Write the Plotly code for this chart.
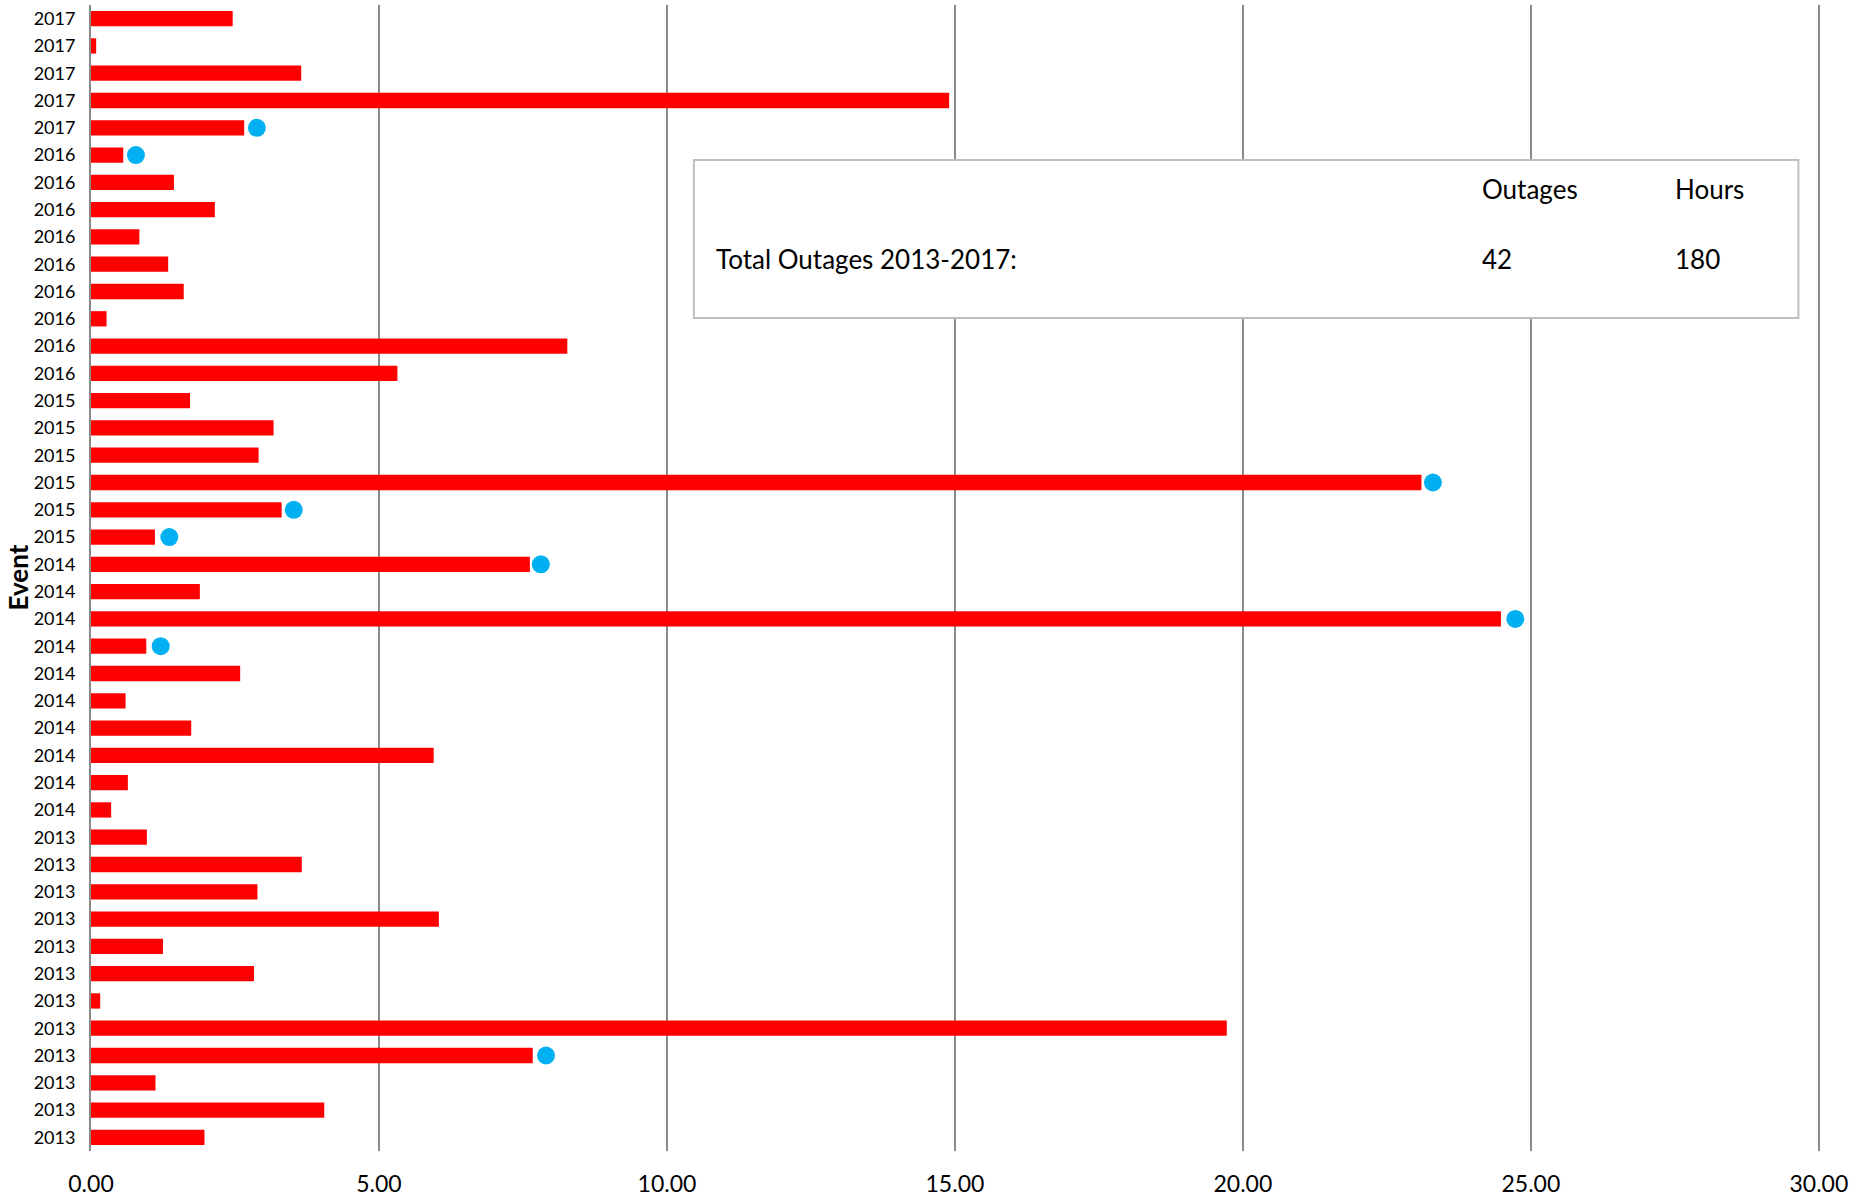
import plotly.graph_objects as go

# Outage events, listed top to bottom as drawn
years = [
    "2017", "2017", "2017", "2017", "2017",
    "2016", "2016", "2016", "2016", "2016", "2016", "2016", "2016", "2016",
    "2015", "2015", "2015", "2015", "2015", "2015",
    "2014", "2014", "2014", "2014", "2014", "2014", "2014", "2014", "2014", "2014",
    "2013", "2013", "2013", "2013", "2013", "2013", "2013", "2013", "2013", "2013", "2013", "2013",
]
hours = [
    2.46, 0.09, 3.65, 14.90, 2.66,
    0.56, 1.44, 2.15, 0.84, 1.34, 1.61, 0.27, 8.27, 5.32,
    1.72, 3.17, 2.91, 23.10, 3.31, 1.11,
    7.62, 1.89, 24.48, 0.96, 2.59, 0.60, 1.74, 5.95, 0.64, 0.35,
    0.97, 3.66, 2.89, 6.04, 1.25, 2.83, 0.16, 19.72, 7.67, 1.12, 4.05, 1.97,
]
# Flagged events (row index, marker value)
flag_rows = [4, 5, 17, 18, 19, 20, 22, 23, 38]
flag_values = [2.88, 0.78, 23.30, 3.52, 1.36, 7.81, 24.73, 1.21, 7.90]

x_ticks = [0, 5, 10, 15, 20, 25, 30]

rows = list(range(len(hours)))
total_outages = len(hours)
total_hours = round(sum(hours))

FONT = "Lato, Carlito, 'Open Sans', sans-serif"
GRID = "#8a8a8a"

fig = go.Figure()
fig.add_trace(go.Bar(
    x=hours, y=rows, orientation="h",
    marker=dict(color="#FF0000", line=dict(width=0)),
    width=0.56, showlegend=False, hoverinfo="x",
))
fig.add_trace(go.Scatter(
    x=flag_values, y=flag_rows, mode="markers",
    marker=dict(color="#00B0F0", size=18, line=dict(width=0)),
    showlegend=False, hoverinfo="x",
))

# Summary box
fig.add_shape(
    type="rect", xref="paper", yref="paper",
    x0=0.3487, x1=0.9875, y0=0.7269, y1=0.8647,
    line=dict(color="#bfbfbf", width=2), fillcolor="white", layer="above",
)
box_font = dict(family=FONT, size=26, color="#000000")
for txt, x, y in [
    ("Outages", 0.8035, 0.8394),
    ("Hours", 0.9150, 0.8394),
    ("Total Outages 2013-2017:", 0.3602, 0.7784),
    (str(total_outages), 0.8035, 0.7784),
    (str(total_hours), 0.9150, 0.7784),
]:
    fig.add_annotation(
        text=txt, x=x, y=y, xref="paper", yref="paper",
        xanchor="left", yanchor="middle", showarrow=False, font=box_font,
    )

# Vertical axis title
fig.add_annotation(
    text="<b>Event</b>", x=-0.0425, y=0.5, xref="paper", yref="paper",
    xanchor="center", yanchor="middle", textangle=-90, showarrow=False,
    borderpad=0,
    font=dict(family=FONT, size=26, color="#000000"),
)

fig.update_layout(
    width=1860, height=1201,
    margin=dict(l=91, r=40, t=5, b=50),
    paper_bgcolor="white", plot_bgcolor="white",
    bargap=0.44,
    font=dict(family=FONT, color="#000000"),
)
fig.update_xaxes(
    range=[0, 30.02], tickvals=x_ticks, tickformat=".2f",
    showgrid=True, gridcolor=GRID, gridwidth=1.6,
    zeroline=False, showline=False, ticks="",
    tickfont=dict(family=FONT, size=23, color="#000000"),
    ticklabelstandoff=17, automargin=False,
)
fig.update_yaxes(
    range=[len(hours) - 0.5, -0.5],
    tickvals=rows, ticktext=years,
    showgrid=False, zeroline=False,
    showline=True, linecolor=GRID, linewidth=2,
    ticks="", ticklabelstandoff=10, automargin=False,
    tickfont=dict(family=FONT, size=18, color="#000000"),
)

fig.write_html("out.html")
